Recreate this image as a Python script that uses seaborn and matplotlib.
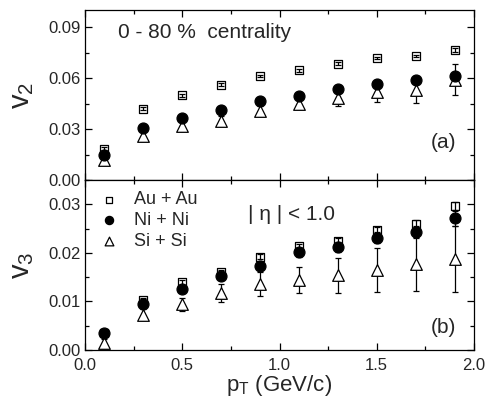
import numpy as np
import pandas as pd
import matplotlib
matplotlib.use("Agg")
import matplotlib.pyplot as plt
import seaborn as sns
from matplotlib.ticker import MultipleLocator, FormatStrFormatter

sns.set_style("ticks")
plt.rcParams['font.family'] = ['Liberation Sans', 'DejaVu Sans']
plt.rcParams['mathtext.fontset'] = 'custom'
plt.rcParams['mathtext.rm'] = 'Liberation Sans'
plt.rcParams['mathtext.it'] = 'Liberation Sans'

pt = [0.1, 0.3, 0.5, 0.7, 0.9, 1.1, 1.3, 1.5, 1.7, 1.9]
systems = ["Au + Au", "Ni + Ni", "Si + Si"]

v2_au = [0.0185, 0.0419, 0.0498, 0.0561, 0.0611, 0.0646, 0.0684, 0.0718, 0.0730, 0.0765]
v2_au_err = [0.0008, 0.0008, 0.0008, 0.0008, 0.0008, 0.0008, 0.0008, 0.0008, 0.0008, 0.0010]
v2_ni = [0.0150, 0.0308, 0.0367, 0.0411, 0.0462, 0.0496, 0.0538, 0.0566, 0.0589, 0.0611]
v2_ni_err = [0.0010, 0.0010, 0.0010, 0.0010, 0.0010, 0.0012, 0.0012, 0.0014, 0.0016, 0.0020]
v2_si = [0.0120, 0.0258, 0.0318, 0.0349, 0.0407, 0.0449, 0.0482, 0.0518, 0.0532, 0.0591]
v2_si_err = [0.0030, 0.0030, 0.0030, 0.0030, 0.0030, 0.0032, 0.0045, 0.0062, 0.0078, 0.0090]

v3_au = [0.0036, 0.0103, 0.0139, 0.0160, 0.0192, 0.0214, 0.0224, 0.0247, 0.0260, 0.0297]
v3_au_err = [0.0004, 0.0004, 0.0005, 0.0005, 0.0005, 0.0005, 0.0006, 0.0006, 0.0007, 0.0008]
v3_ni = [0.0035, 0.0095, 0.0125, 0.0153, 0.0173, 0.0201, 0.0212, 0.0231, 0.0243, 0.0271]
v3_ni_err = [0.0004, 0.0005, 0.0006, 0.0006, 0.0008, 0.0009, 0.0010, 0.0011, 0.0013, 0.0016]
v3_si = [0.0015, 0.0073, 0.0094, 0.0117, 0.0136, 0.0144, 0.0154, 0.0165, 0.0177, 0.0187]
v3_si_err = [0.0008, 0.0012, 0.0014, 0.0018, 0.0024, 0.0027, 0.0036, 0.0046, 0.0055, 0.0068]

fig = plt.figure(figsize=(4.87, 4.05), dpi=100)
L, R = 85/487, 474/487
ax1 = fig.add_axes([L, 1-180/405, R-L, 170/405])
ax2 = fig.add_axes([L, 1-350/405, R-L, 170/405])

styles = {
    "Au + Au": dict(marker="s", s=34, facecolor="white", edgecolor="black", linewidth=0.9),
    "Ni + Ni": dict(marker="o", s=62, facecolor="black", edgecolor="black", linewidth=0.9),
    "Si + Si": dict(marker="^", s=70, facecolor="white", edgecolor="black", linewidth=0.9),
}
# Au+Au error bars are drawn over the open squares, as in the reference
err_on_top = {"Au + Au": True, "Ni + Ni": False, "Si + Si": False}

def draw(ax, vals, errs, zorders):
    for sysname, v, e, z in zip(systems, vals, errs, zorders):
        df = pd.DataFrame({"pt": pt, "v": v, "err": e})
        ez = z + 0.5 if err_on_top[sysname] else z - 0.5
        ax.errorbar(df["pt"], df["v"], yerr=df["err"], fmt="none", ecolor="black",
                    elinewidth=0.9, capsize=2.2, capthick=0.9, zorder=ez)
        st = styles[sysname]
        sns.scatterplot(data=df, x="pt", y="v", ax=ax, marker=st["marker"], s=st["s"],
                        facecolor=st["facecolor"], edgecolor=st["edgecolor"],
                        linewidth=st["linewidth"], zorder=z, label=sysname)

draw(ax1, [v2_au, v2_ni, v2_si], [v2_au_err, v2_ni_err, v2_si_err], [3, 5, 4])
draw(ax2, [v3_au, v3_ni, v3_si], [v3_au_err, v3_ni_err, v3_si_err], [3, 5, 4])

for ax in (ax1, ax2):
    ax.set_xlim(0.0, 2.0)
    ax.xaxis.set_major_locator(MultipleLocator(0.5))
    ax.xaxis.set_minor_locator(MultipleLocator(0.25))
    ax.xaxis.set_major_formatter(FormatStrFormatter("%.1f"))
    ax.tick_params(which="both", direction="in", top=True, right=True, labelsize=12,
                   width=0.9, color="black", pad=3)
    ax.tick_params(axis="x", pad=6)
    ax.tick_params(which="major", length=5)
    ax.tick_params(which="minor", length=3)
    for sp in ax.spines.values():
        sp.set_linewidth(0.9)
        sp.set_color("black")
    ax.set_xlabel("")

ax1.set_ylim(0.0, 0.10)
ax1.yaxis.set_major_locator(MultipleLocator(0.03))
ax1.yaxis.set_minor_locator(MultipleLocator(0.015))
ax1.yaxis.set_major_formatter(FormatStrFormatter("%.2f"))
ax1.tick_params(labelbottom=False)
ax1.legend_.remove()
ax1.set_ylabel(r"v$_2$", fontsize=21)
ax1.text(0.17, 0.087, "0 - 80 %  centrality", fontsize=15, va="center", ha="left")
ax1.text(0.955, 0.22, "(a)", fontsize=15, transform=ax1.transAxes, ha="right", va="center")

ax2.set_ylim(0.0, 0.035)
ax2.yaxis.set_major_locator(MultipleLocator(0.01))
ax2.yaxis.set_minor_locator(MultipleLocator(0.005))
ax2.yaxis.set_major_formatter(FormatStrFormatter("%.2f"))
ax2.set_ylabel(r"v$_3$", fontsize=21)
ax2.set_xlabel(r"p$_\mathrm{T}$ (GeV/c)", fontsize=16, labelpad=0)
ax2.text(0.955, 0.13, "(b)", fontsize=15, transform=ax2.transAxes, ha="right", va="center")
ax2.text(0.84, 0.028, "| η | < 1.0", fontsize=15, ha="left", va="center")
leg = ax2.legend(loc="upper left", frameon=False, fontsize=13, handletextpad=0.9,
                 handlelength=1.0, borderaxespad=0.0, borderpad=0.3, labelspacing=0.2,
                 markerscale=0.75, bbox_to_anchor=(0.025, 0.965))

ax1.yaxis.set_label_coords(-0.125, 0.5)
ax2.yaxis.set_label_coords(-0.125, 0.5)

fig.savefig("out.png", dpi=100)
